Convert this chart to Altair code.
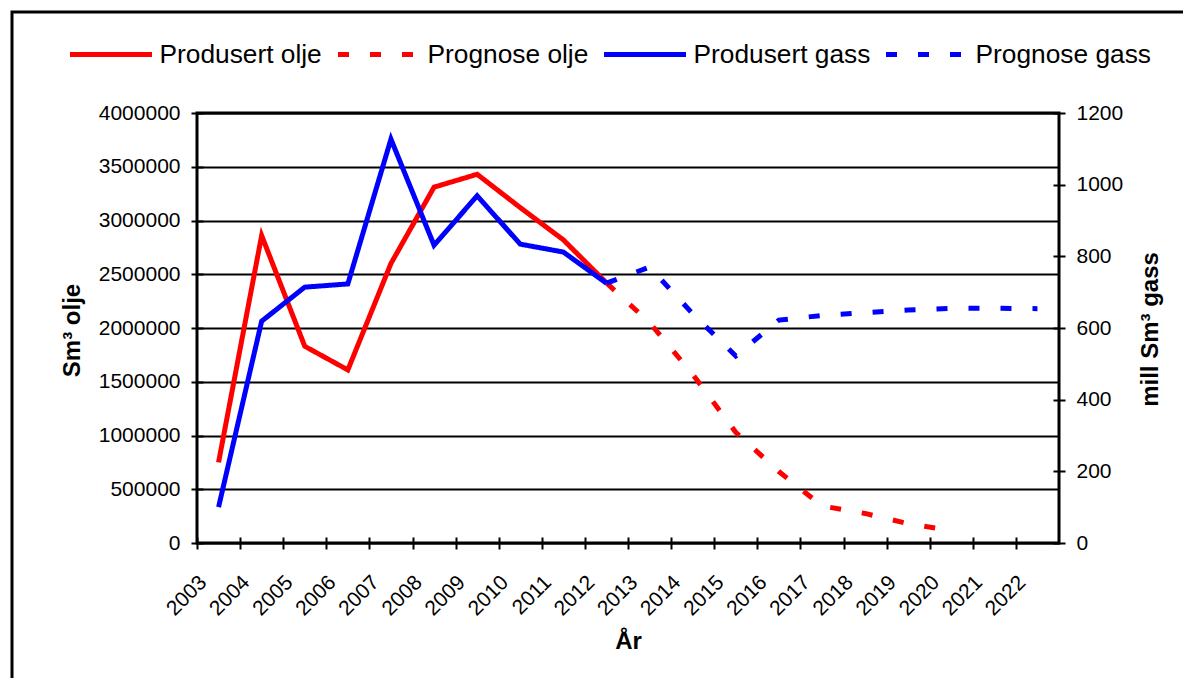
import altair as alt
import pandas as pd

years = list(range(2003, 2023))

oil_prod_years = list(range(2003, 2013))
oil_prod = [750000, 2860000, 1830000, 1610000, 2600000, 3310000, 3430000, 3120000, 2820000, 2420000]

oil_prog_years = list(range(2012, 2021))
oil_prog = [2420000, 2050000, 1570000, 1030000, 665000, 345000, 275000, 180000, 115000]

gas_prod_years = list(range(2003, 2013))
gas_prod = [100, 619, 714, 723, 1127, 831, 969, 834, 812, 725]

gas_prog_years = list(range(2012, 2023))
gas_prog = [725, 770, 640, 522, 622, 635, 643, 650, 655, 655, 654]

series = ["Produsert olje", "Prognose olje", "Produsert gass", "Prognose gass"]
colors = ["#FF0000", "#FF0000", "#0000FF", "#0000FF"]
dashes = [[1, 0], [11, 21], [1, 0], [11, 21]]

left_ticks = list(range(0, 4000001, 500000))
right_ticks = list(range(0, 1201, 200))

oil_df = pd.concat([
    pd.DataFrame({"year": oil_prod_years, "value": oil_prod, "serie": series[0]}),
    pd.DataFrame({"year": oil_prog_years, "value": oil_prog, "serie": series[1]}),
])
gas_df = pd.concat([
    pd.DataFrame({"year": gas_prod_years, "value": gas_prod, "serie": series[2]}),
    pd.DataFrame({"year": gas_prog_years, "value": gas_prog, "serie": series[3]}),
])

FONT = "Liberation Sans"
W, H = 862, 430
band = W / len(years)

x_enc = alt.X(
    "year:Q",
    scale=alt.Scale(domain=[2002.5, 2022.5], nice=False, zero=False),
    axis=alt.Axis(
        values=years, format="d", title="År", domain=False, grid=False,
        tickSize=12, offset=-6, tickWidth=2, tickColor="black",
        tickOffset=-band / 2, labelOffset=6,
        labelAngle=315, labelAlign="right", labelBaseline="middle",
        labelOverlap=False, labelFlush=False, labelBound=False,
        labelPadding=30, labelFontSize=21, labelFont=FONT, labelColor="black",
        titleFont=FONT, titleFontSize=24, titleFontWeight="bold", titleColor="black",
        titleX=431, titleY=104, titleAlign="center", titleBaseline="middle",
    ),
)

legend = alt.Legend(
    title=None, orient="none", legendX=-129.5, legendY=-102, direction="horizontal",
    columns=4, columnPadding=5, symbolType="stroke", symbolSize=6724,
    symbolStrokeWidth=5, labelFontSize=26.3, labelFont=FONT, labelColor="black",
    labelOffset=5, labelLimit=600, padding=0,
)

color_enc = alt.Color("serie:N", scale=alt.Scale(domain=series, range=colors), legend=legend)
dash_enc = alt.StrokeDash("serie:N", scale=alt.Scale(domain=series, range=dashes), legend=legend)

oil = alt.Chart(oil_df).mark_line(strokeWidth=5).encode(
    x=x_enc,
    y=alt.Y(
        "value:Q",
        scale=alt.Scale(domain=[0, 4000000], nice=False),
        axis=alt.Axis(
            values=left_ticks, format="d", title="Sm³ olje", orient="left",
            domain=False, grid=True, gridColor="black", gridWidth=2, gridOpacity=1,
            tickSize=12, offset=-6, tickWidth=2, tickColor="black",
            labelPadding=11, labelFontSize=21, labelFont=FONT, labelColor="black",
            titleFont=FONT, titleFontSize=24, titleFontWeight="bold", titleColor="black",
            titleAngle=270, titleX=-131, titleY=217, titleAlign="center", titleBaseline="middle",
        ),
    ),
    color=color_enc,
    strokeDash=dash_enc,
)

gas = alt.Chart(gas_df).mark_line(strokeWidth=5).encode(
    x=x_enc,
    y=alt.Y(
        "value:Q",
        scale=alt.Scale(domain=[0, 1200], nice=False),
        axis=alt.Axis(
            values=right_ticks, format="d", title="mill Sm³ gass", orient="right",
            domain=False, grid=False,
            tickSize=12, offset=-6, tickWidth=2, tickColor="black",
            labelPadding=11, labelFontSize=21, labelFont=FONT, labelColor="black",
            titleFont=FONT, titleFontSize=24, titleFontWeight="bold", titleColor="black",
            titleAngle=270, titleX=97, titleY=216, titleAlign="center", titleBaseline="middle",
        ),
    ),
    color=color_enc,
    strokeDash=dash_enc,
)

border = alt.Chart(pd.DataFrame({"k": [0]})).mark_rect(
    fillOpacity=0, stroke="black", strokeWidth=3
).encode(
    x=alt.value(12 - 197), x2=alt.value(1200), y=alt.value(12 - 113), y2=alt.value(800)
)

chart = alt.layer(border, oil, gas).resolve_scale(y="independent").properties(
    width=W, height=H,
    autosize=alt.AutoSizeParams(type="none"),
    padding={"left": 189, "top": 105, "right": 124, "bottom": 135},
    background="white",
).configure_view(stroke="black", strokeWidth=3)

chart.save("out.html", embed_options={"renderer": "svg", "actions": False})
